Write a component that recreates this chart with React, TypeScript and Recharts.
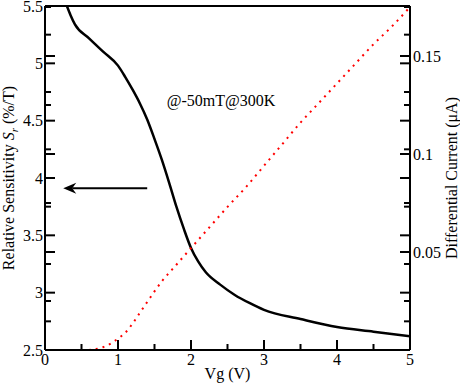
import React from 'react';
import { LineChart, Line, XAxis, YAxis, ReferenceLine, ReferenceDot, Label } from 'recharts';

// Relative sensitivity (left axis) vs gate voltage
const vgSens = [0.3, 0.35, 0.41, 0.6, 0.8, 1.0, 1.1, 1.2, 1.3, 1.4, 1.5, 1.6, 1.7, 1.8, 1.9, 2.0, 2.1, 2.2, 2.4, 2.6, 2.8, 3.0, 3.5, 4.0, 4.5, 5.0];
const sensitivity = [5.5, 5.42, 5.34, 5.22, 5.1, 4.98, 4.88, 4.77, 4.65, 4.51, 4.34, 4.16, 3.96, 3.75, 3.56, 3.39, 3.27, 3.18, 3.07, 2.98, 2.91, 2.85, 2.77, 2.7, 2.66, 2.62];

// Differential current (right axis, µA) vs gate voltage
const vgCurrent = [0.6, 0.7, 0.8, 0.9, 1.0, 1.1, 1.2, 1.3, 1.4, 1.6, 1.8, 2.0, 2.25, 2.5, 2.75, 3.0, 3.25, 3.5, 3.75, 4.0, 4.25, 4.5, 4.75, 5.0];
const current = [0, 0.0005, 0.0015, 0.0033, 0.0058, 0.0088, 0.0135, 0.019, 0.0245, 0.035, 0.0435, 0.052, 0.0625, 0.073, 0.083, 0.094, 0.105, 0.116, 0.126, 0.136, 0.146, 0.156, 0.165, 0.175];

const xTicks = [0, 0.5, 1, 1.5, 2, 2.5, 3, 3.5, 4, 4.5, 5];
const leftTicks = [2.5, 2.75, 3, 3.25, 3.5, 3.75, 4, 4.25, 4.5, 4.75, 5, 5.25, 5.5];
const rightTicks = [0.025, 0.05, 0.075, 0.1, 0.125, 0.15, 0.175];

const annotation = '@-50mT@300K';
const annotationAt = { x: 2.41, y: 4.68 };
const arrowFrom = { x: 1.4, y: 3.91 };
const arrowTo = { x: 0.25, y: 3.91 };

const sensData = vgSens.map((vg, i) => ({ vg, s: sensitivity[i] }));
const currentData = vgCurrent.map((vg, i) => ({ vg, c: current[i] }));

const FONT = 'Liberation Serif, Tinos, Times New Roman, DejaVu Serif, serif';
const txt = { fontFamily: FONT, fontSize: 16 };

type Side = 'left' | 'right' | 'top' | 'bottom';

// ticks point into the plot, minor ones shorter
const makeTick = (side: Side, major: number, showLabel: boolean) => (props: any) => {
  const { x, y, payload } = props;
  const v = payload.value;
  const isMajor = Math.abs(v / major - Math.round(v / major)) < 1e-6;
  const len = isMajor ? 10 : 6;
  let line;
  let text = null;
  if (side === 'left') {
    line = <line x1={x} y1={y} x2={x + len} y2={y} stroke="#000" strokeWidth={2} />;
    if (showLabel && isMajor)
      text = <text x={x - 2} y={y} dy="0.35em" textAnchor="end" style={txt} fill="#000">{String(v)}</text>;
  } else if (side === 'right') {
    line = <line x1={x} y1={y} x2={x - len} y2={y} stroke="#000" strokeWidth={2} />;
    if (showLabel && isMajor)
      text = <text x={x + 3} y={y} dy="0.35em" textAnchor="start" style={txt} fill="#000">{String(v)}</text>;
  } else if (side === 'bottom') {
    line = <line x1={x} y1={y} x2={x} y2={y - len} stroke="#000" strokeWidth={2} />;
    if (showLabel && isMajor)
      text = <text x={x} y={y + 15} textAnchor="middle" style={txt} fill="#000">{String(v)}</text>;
  } else {
    line = <line x1={x} y1={y} x2={x} y2={y + len} stroke="#000" strokeWidth={2} />;
  }
  return (
    <g>
      {line}
      {text}
    </g>
  );
};

const LeftTitle = (p: any) => {
  const { x, y, height } = p.viewBox;
  const cx = x + 8;
  const cy = y + height / 2;
  return (
    <text transform={`rotate(-90 ${cx} ${cy})`} x={cx} y={cy} dy="0.35em" textAnchor="middle" style={txt} fill="#000">
      Relative Sensitivity <tspan fontStyle="italic">S</tspan>
      <tspan fontStyle="italic" style={{ fontSize: 11 }} dy={4}>r</tspan>
      <tspan dy={-4}> (%/T)</tspan>
    </text>
  );
};

const RightTitle = (p: any) => {
  const { x, y, height } = p.viewBox;
  const cx = x + 41;
  const cy = y + height / 2;
  return (
    <text transform={`rotate(-90 ${cx} ${cy})`} x={cx} y={cy} dy="0.35em" textAnchor="middle" style={txt} fill="#000">
      Differential Current (μA)
    </text>
  );
};

const BottomTitle = (p: any) => {
  const { x, y, width } = p.viewBox;
  return (
    <text x={x + width / 2} y={y + 29} textAnchor="middle" style={txt} fill="#000">
      Vg (V)
    </text>
  );
};

const Arrow = (p: any) => {
  const { x1, y1, x2, y2 } = p;
  const d = Math.sign(x2 - x1) || 1;
  return (
    <g>
      <line x1={x1} y1={y1} x2={x2 - d * 9} y2={y2} stroke="#000" strokeWidth={2} />
      <polygon
        points={`${x2},${y2} ${x2 - d * 13},${y2 - 5.5} ${x2 - d * 9},${y2} ${x2 - d * 13},${y2 + 5.5}`}
        fill="#000"
      />
    </g>
  );
};

const AnnotationText = (p: any) => (
  <text x={p.cx} y={p.cy} dy="0.35em" textAnchor="middle" style={txt} fill="#000">
    {annotation}
  </text>
);

const axisLine = { stroke: '#000', strokeWidth: 2 };

export default function App() {
  return (
    <div style={{ position: 'absolute', left: 0, top: 0, width: 460, height: 385, background: '#fff', fontFamily: FONT }}>
      <LineChart width={460} height={385} margin={{ top: 0, right: 0, bottom: 0, left: 0 }}>
        <XAxis
          xAxisId="b"
          dataKey="vg"
          type="number"
          domain={[0, 5]}
          allowDataOverflow
          ticks={xTicks}
          interval={0}
          height={35}
          tickSize={0}
          tickMargin={0}
          tickLine={false}
          axisLine={axisLine}
          tick={makeTick('bottom', 1, true)}
        >
          <Label content={BottomTitle} />
        </XAxis>
        <XAxis
          xAxisId="t"
          orientation="top"
          type="number"
          domain={[0, 5]}
          allowDataOverflow
          ticks={xTicks}
          interval={0}
          height={6}
          tickSize={0}
          tickMargin={0}
          tickLine={false}
          axisLine={axisLine}
          tick={makeTick('top', 1, false)}
        />
        <YAxis
          yAxisId="L"
          type="number"
          domain={[2.5, 5.5]}
          allowDataOverflow
          ticks={leftTicks}
          interval={0}
          width={45}
          tickSize={0}
          tickMargin={0}
          tickLine={false}
          axisLine={axisLine}
          tick={makeTick('left', 0.5, true)}
        >
          <Label content={LeftTitle} />
        </YAxis>
        <YAxis
          yAxisId="R"
          orientation="right"
          type="number"
          domain={[0, 0.1755]}
          allowDataOverflow
          ticks={rightTicks}
          interval={0}
          width={50}
          tickSize={0}
          tickMargin={0}
          tickLine={false}
          axisLine={axisLine}
          tick={makeTick('right', 0.05, true)}
        >
          <Label content={RightTitle} />
        </YAxis>
        <YAxis
          yAxisId="Lm"
          orientation="right"
          mirror
          type="number"
          domain={[2.5, 5.5]}
          allowDataOverflow
          ticks={leftTicks}
          interval={0}
          width={1}
          tickSize={0}
          tickMargin={0}
          tickLine={false}
          axisLine={false}
          tick={makeTick('right', 0.5, false)}
        />
        <YAxis
          yAxisId="Rm"
          orientation="left"
          mirror
          type="number"
          domain={[0, 0.1755]}
          allowDataOverflow
          ticks={rightTicks}
          interval={0}
          width={1}
          tickSize={0}
          tickMargin={0}
          tickLine={false}
          axisLine={false}
          tick={makeTick('left', 0.05, false)}
        />
        <Line
          xAxisId="b"
          yAxisId="L"
          data={sensData}
          dataKey="s"
          type="monotone"
          stroke="#000"
          strokeWidth={2.5}
          dot={false}
          isAnimationActive={false}
        />
        <Line
          xAxisId="b"
          yAxisId="R"
          data={currentData}
          dataKey="c"
          type="monotone"
          stroke="#ff0000"
          strokeWidth={2}
          strokeDasharray="2 5"
          dot={false}
          isAnimationActive={false}
        />
        <ReferenceLine xAxisId="b" yAxisId="L" segment={[arrowFrom, arrowTo]} shape={Arrow} />
        <ReferenceDot xAxisId="b" yAxisId="L" x={annotationAt.x} y={annotationAt.y} r={1} shape={AnnotationText} />
      </LineChart>
    </div>
  );
}
